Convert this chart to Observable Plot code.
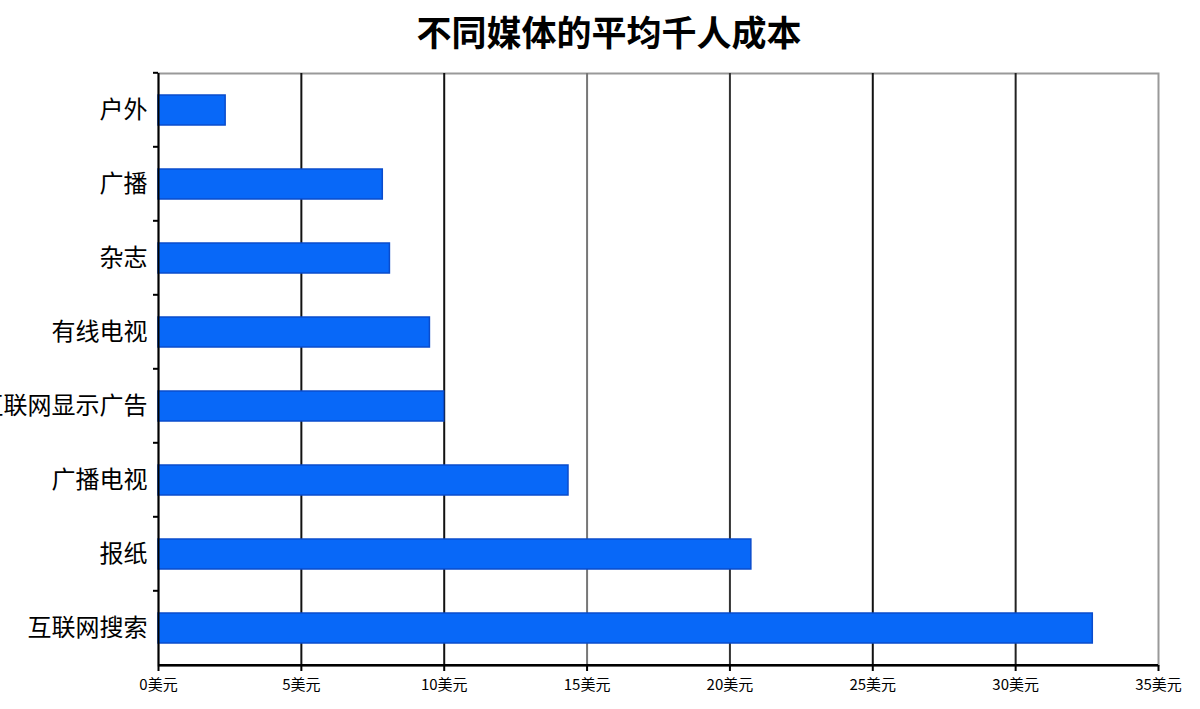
<!DOCTYPE html>
<html>
<head>
<meta charset="utf-8">
<script src="https://cdn.jsdelivr.net/npm/d3@7"></script>
<script src="https://cdn.jsdelivr.net/npm/@observablehq/plot@0.6"></script>
<style>
  html, body { margin: 0; padding: 0; background: #fff; }
  #title { height: 60px; line-height: 62px; text-align: center; font-family: "Noto Sans CJK SC", sans-serif; font-weight: bold; font-size: 35px; color: #000; padding-left: 18px; }
  #chart svg { display: block; }
</style>
</head>
<body>
<div id="title">不同媒体的平均千人成本</div>
<div id="chart"></div>
<script>
const categories = ["户外", "广播", "杂志", "有线电视", "互联网显示广告", "广播电视", "报纸", "互联网搜索"];
const values = [2.35, 7.85, 8.1, 9.5, 10.0, 14.35, 20.75, 32.7];
const xTicks = [0, 5, 10, 15, 20, 25, 30, 35];
const gridColors = ["#000", "#111", "#111", "#777", "#333", "#111", "#222", "#999"];

const data = categories.map((c, i) => ({category: c, value: values[i]}));
const grid = xTicks.map((t, i) => ({t, color: gridColors[i]}));

const font = "'Noto Sans CJK SC', sans-serif";

const plot = Plot.plot({
  width: 1200,
  height: 649,
  marginLeft: 158,
  marginRight: 42,
  marginTop: 13,
  marginBottom: 44,
  style: {fontFamily: font, background: "#fff"},
  x: {domain: [0, 35], ticks: xTicks, label: null},
  y: {domain: categories, paddingInner: 0.6, paddingOuter: 0.3, label: null},
  marks: [
    Plot.frame({stroke: "#999", strokeWidth: 2}),
    Plot.ruleX(grid.filter(d => d.t > 0 && d.t < 35), {x: "t", stroke: "color", strokeWidth: 2}),
    Plot.barX(data, {y: "category", x: "value", fill: "#0868f8", stroke: "#0a4ccc", strokeWidth: 1.5}),
    Plot.ruleX([0], {stroke: "#000", strokeWidth: 2}),
    Plot.axisX({
      ticks: xTicks,
      tickSize: 6,
      tickPadding: 8,
      tickFormat: d => d + "美元",
      fontSize: 15,
      stroke: "#000",
      strokeWidth: 2,
      color: "#000",
      label: null
    }),
    Plot.axisY({
      tickSize: 0,
      tickPadding: 11,
      fontSize: 24,
      color: "#000",
      label: null
    })
  ]
});

// bottom axis line and left boundary ticks drawn with the plot's own scales
const svg = d3.select(plot);
const xs = plot.scale("x");
const ys = plot.scale("y");
const step = ys.step;
const x0 = xs.apply(0), x1 = xs.apply(35);
const yBottom = ys.apply(categories[categories.length - 1]) + ys.bandwidth + step * 0.3;
svg.append("line")
  .attr("x1", x0).attr("x2", x1)
  .attr("y1", yBottom).attr("y2", yBottom)
  .attr("stroke", "#000").attr("stroke-width", 2.5);
categories.forEach(c => {
  const yb = ys.apply(c) - step * 0.3;
  svg.append("line")
    .attr("x1", x0 - 5).attr("x2", x0)
    .attr("y1", yb).attr("y2", yb)
    .attr("stroke", "#000").attr("stroke-width", 2);
});
document.getElementById("chart").appendChild(plot);
</script>
</body>
</html>
